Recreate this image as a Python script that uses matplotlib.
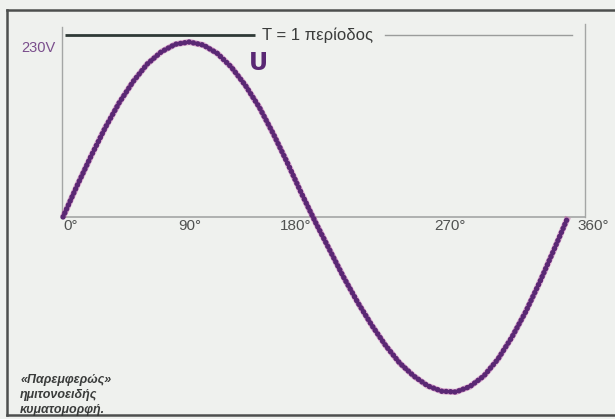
"""Sketch of a near-sinusoidal mains voltage waveform over one period."""

import matplotlib

matplotlib.use("Agg")
import matplotlib.pyplot as plt

plt.rcParams["font.family"] = ["Liberation Sans", "DejaVu Sans"]

# waveform samples: phase angle (deg) and instantaneous voltage (V)
ANGLE = [0, 10, 20, 30, 40, 50, 60, 70, 80, 90, 100, 110, 120, 130, 140, 150,
         160, 170, 180, 190, 200, 210, 220, 230, 240, 250, 260, 270, 280, 290,
         300, 310, 320, 330, 340, 350, 360]
VOLTAGE = [0, 41, 80, 117, 150, 178, 201, 217, 227, 230, 226, 215, 197, 173,
           144, 109, 71, 31, -7, -43, -79, -112, -142, -169, -192, -209, -222,
           -229, -230, -223, -209, -187, -158, -124, -85, -43, 0]

PEAK_LABEL = "230V"
CURVE_LABEL = "U"
PERIOD_LABEL = "T = 1 περίοδος"
TICKS = [0, 90, 180, 270, 360]
TICK_LABELS = ["0°", "90°", "180°", "270°", "360°"]
CAPTION = "«Παρεμφερώς»\nημιτονοειδής\nκυματομορφή."

BG = "#eff1ee"
FRAME = "#4d4f4e"
BOX = "#a4a6a5"
PURPLE = "#5a2874"

fig = plt.figure(figsize=(6.15, 4.19), dpi=100, facecolor=BG)
ax = fig.add_axes([0, 0, 1, 1])
ax.set_facecolor(BG)
ax.set_xlim(-44.91, 393.5)
ax.set_ylim(-265.5, 285.2)
ax.axis("off")

# outer page frame
ax.plot([-39.9, 400], [272, 272], color=FRAME, lw=1.8, clip_on=False)
ax.plot([-39.9, -39.9], [272, -260.5], color=FRAME, lw=1.8, clip_on=False)
ax.plot([-39.9, 400], [-260.5, -260.5], color=FRAME, lw=1.8, clip_on=False)

# plot box: left, bottom axis and right edge
ax.plot([-0.7, -0.7], [0, 249.7], color=BOX, lw=1.0)
ax.plot([-0.7, 372.1], [0, 0], color=BOX, lw=1.2)
ax.plot([372.1, 372.1], [0, 253.7], color=BOX, lw=1.0)

# period marker across the top
ax.plot([1.4, 136.9], [239.2, 239.2], color="#2e3a36", lw=2.0,
        solid_capstyle="butt")
ax.plot([229.5, 362.9], [239.2, 239.2], color="#9a9c9b", lw=1.0)
ax.text(141.9, 239.2, PERIOD_LABEL, ha="left", va="center", fontsize=12,
        color="#3a3c3b")

# beaded waveform
ax.plot(ANGLE, VOLTAGE, color="#c255a8", lw=4.4, alpha=0.5,
        solid_joinstyle="round", solid_capstyle="butt")
ax.plot(ANGLE, VOLTAGE, color=PURPLE, lw=3.9, linestyle=(0, (0.01, 0.8)),
        dash_capstyle="round")

ax.text(-5.7, 222, PEAK_LABEL, ha="right", va="center", fontsize=10.5,
        color="#7a4e8c")
ax.text(139, 202.4, CURVE_LABEL, ha="center", va="center", fontsize=17,
        fontweight="heavy", color=PURPLE, family="DejaVu Sans")

# angle ticks along the zero line
offsets = {0: (0, "left"), 90: (0, "center"), 180: (-3, "right"),
           270: (6, "center"), 360: (6.4, "left")}
for tick, label in zip(TICKS, TICK_LABELS):
    dx, ha = offsets[tick]
    ax.text(tick + dx, -2.6, label, ha=ha, va="top", fontsize=11,
            color="#505251")

ax.text(-30.6, -206.5, CAPTION, ha="left", va="top", fontsize=9,
        fontweight="bold", fontstyle="italic", color="#3a3c3b",
        linespacing=1.3)

fig.savefig("out.png", dpi=100, facecolor=BG)
